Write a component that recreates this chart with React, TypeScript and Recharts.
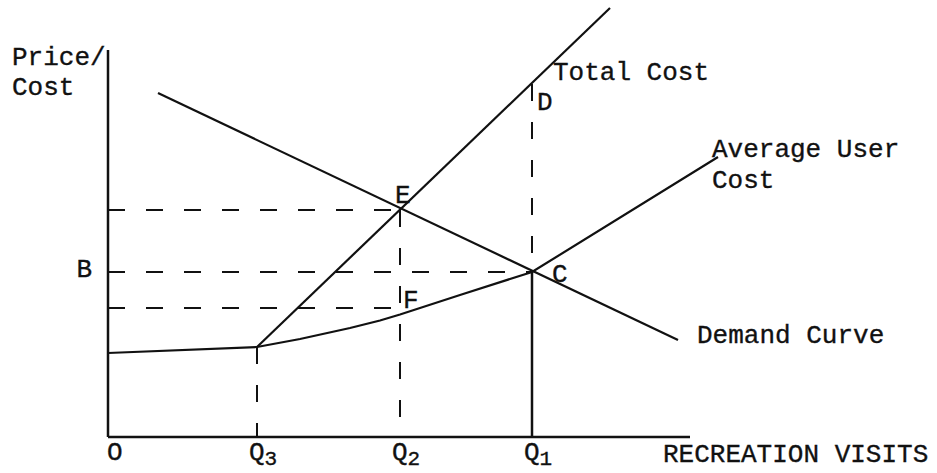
import React from 'react';
import { LineChart, Line, XAxis, YAxis, ReferenceLine, ReferenceDot } from 'recharts';

// Quantities (recreation visits) on the horizontal axis
const xTicks = [0, 14.9, 29.2, 42.4];
const xTickNames = ['O', 'Q', 'Q', 'Q'];
const xTickSubs = ['', '3', '2', '1'];

// Price level B on the vertical axis
const yTicks = [16.5];
const yTickNames = ['B'];

// Axis extents
const xAxisEnd = 58.2;
const yAxisTop = 38.7;

// Curves
const demandCurve = [
  { x: 5.0, y: 34.4 },
  { x: 57.0, y: 9.7 },
];
const totalCost = [
  { x: 14.9, y: 9.0 },
  { x: 50.2, y: 42.9 },
];
const averageUserCost = [
  { x: 0, y: 8.4 },
  { x: 14.9, y: 9.0 },
  { x: 19.2, y: 9.8 },
  { x: 24.2, y: 10.9 },
  { x: 27.2, y: 11.65 },
  { x: 29.2, y: 12.25 },
  { x: 35.2, y: 14.2 },
  { x: 42.4, y: 16.5 },
  { x: 61.0, y: 28.0 },
];

// Named points
const pointE = { x: 29.2, y: 22.7 };
const pointC = { x: 42.4, y: 16.5 };
const pointD = { x: 42.4, y: 35.3 };
const pointF = { x: 29.2, y: 12.9 };
const pointQ3 = { x: 14.9, y: 9.0 };

const FONT = '"Liberation Mono", "DejaVu Sans Mono", monospace';
const INK = '#111';

const textStyle = {
  fontFamily: FONT,
  fontSize: 26,
  fill: INK,
  stroke: INK,
  strokeWidth: 0.35,
};

const makeLabel = (lines: string[], dx: number, dy: number, lineGap = 31) => (props: any) => {
  const vb = props.viewBox || {};
  const cx = (vb.x || 0) + (vb.width || 0) / 2;
  const cy = (vb.y || 0) + (vb.height || 0) / 2;
  return (
    <g>
      {lines.map((t, i) => (
        <text key={i} x={cx + dx} y={cy + dy + i * lineGap} {...textStyle} textAnchor="start">
          {t}
        </text>
      ))}
    </g>
  );
};

const XTick = (props: any) => {
  const { x, y, index } = props;
  const name = xTickNames[index];
  const sub = xTickSubs[index];
  return (
    <text x={index === 0 ? x - 1 : x - 8} y={y + 23} {...textStyle} textAnchor="start">
      {name}
      {sub ? (
        <tspan fontSize={21} dy={5}>
          {sub}
        </tspan>
      ) : null}
    </text>
  );
};

const YTick = (props: any) => {
  const { x, y, index } = props;
  return (
    <text x={x} y={y + 5} {...textStyle} textAnchor="end">
      {yTickNames[index]}
    </text>
  );
};

const dash = '17 21';

export default function App() {
  return (
    <div style={{ position: 'absolute', left: 0, top: 0, background: '#fff' }}>
      <LineChart
        width={937}
        height={473}
        margin={{ top: 0, right: 177, left: 48, bottom: 0 }}
      >
        <XAxis
          type="number"
          dataKey="x"
          domain={[0, 65.2]}
          ticks={xTicks}
          interval={0}
          axisLine={false}
          tickLine={false}
          tickSize={0}
          tickMargin={0}
          height={36}
          tick={<XTick />}
        />
        <YAxis
          type="number"
          dataKey="y"
          domain={[0, 43.7]}
          ticks={yTicks}
          interval={0}
          axisLine={false}
          tickLine={false}
          tickSize={0}
          tickMargin={16}
          width={60}
          tick={<YTick />}
        />

        {/* axes */}
        <ReferenceLine segment={[{ x: 0, y: 0 }, { x: 0, y: yAxisTop }]} stroke={INK} strokeWidth={2.5} />
        <ReferenceLine segment={[{ x: 0, y: 0 }, { x: xAxisEnd, y: 0 }]} stroke={INK} strokeWidth={2.5} />

        {/* dashed guides */}
        <ReferenceLine segment={[{ x: 0, y: pointE.y }, { x: pointE.x, y: pointE.y }]} stroke={INK} strokeWidth={2} strokeDasharray={dash} />
        <ReferenceLine segment={[{ x: 0, y: pointC.y }, { x: pointC.x, y: pointC.y }]} stroke={INK} strokeWidth={2} strokeDasharray={dash} />
        <ReferenceLine segment={[{ x: 0, y: pointF.y }, { x: pointF.x, y: pointF.y }]} stroke={INK} strokeWidth={2} strokeDasharray={dash} />
        <ReferenceLine segment={[{ x: pointE.x, y: pointE.y }, { x: pointE.x, y: 0 }]} stroke={INK} strokeWidth={2} strokeDasharray={dash} />
        <ReferenceLine segment={[{ x: pointQ3.x, y: pointQ3.y }, { x: pointQ3.x, y: 0 }]} stroke={INK} strokeWidth={2} strokeDasharray={dash} />
        <ReferenceLine segment={[{ x: pointD.x, y: pointD.y }, { x: pointC.x, y: pointC.y }]} stroke={INK} strokeWidth={2} strokeDasharray={dash} />
        <ReferenceLine segment={[{ x: pointC.x, y: pointC.y }, { x: pointC.x, y: 0 }]} stroke={INK} strokeWidth={2.5} />

        {/* curves */}
        <Line data={demandCurve} dataKey="y" type="linear" stroke={INK} strokeWidth={2.2} dot={false} isAnimationActive={false} />
        <Line data={totalCost} dataKey="y" type="linear" stroke={INK} strokeWidth={2.2} dot={false} isAnimationActive={false} />
        <Line data={averageUserCost} dataKey="y" type="linear" stroke={INK} strokeWidth={2.2} dot={false} isAnimationActive={false} />

        {/* annotations */}
        <ReferenceDot x={0} y={yAxisTop} r={0} fill="none" stroke="none" label={makeLabel(['Price/', 'Cost'], -96, 15, 30)} />
        <ReferenceDot x={pointD.x} y={pointD.y} r={0} fill="none" stroke="none" label={makeLabel(['Total Cost'], 21, -4)} />
        <ReferenceDot x={pointD.x} y={pointD.y} r={0} fill="none" stroke="none" label={makeLabel(['D'], 5, 26)} />
        <ReferenceDot x={pointE.x} y={pointE.y} r={0} fill="none" stroke="none" label={makeLabel(['E'], -5, -7)} />
        <ReferenceDot x={pointF.x} y={pointF.y} r={0} fill="none" stroke="none" label={makeLabel(['F'], 3, 0)} />
        <ReferenceDot x={pointC.x} y={pointC.y} r={0} fill="none" stroke="none" label={makeLabel(['C'], 20, 10)} />
        <ReferenceDot
          x={averageUserCost[averageUserCost.length - 1].x}
          y={averageUserCost[averageUserCost.length - 1].y}
          r={0}
          fill="none"
          stroke="none"
          label={makeLabel(['Average User', 'Cost'], -6, 0)}
        />
        <ReferenceDot
          x={demandCurve[demandCurve.length - 1].x}
          y={demandCurve[demandCurve.length - 1].y}
          r={0}
          fill="none"
          stroke="none"
          label={makeLabel(['Demand Curve'], 19, 3)}
        />
        <ReferenceDot x={xAxisEnd} y={0} r={0} fill="none" stroke="none" label={makeLabel(['RECREATION VISITS'], -27, 25)} />
      </LineChart>
    </div>
  );
}
